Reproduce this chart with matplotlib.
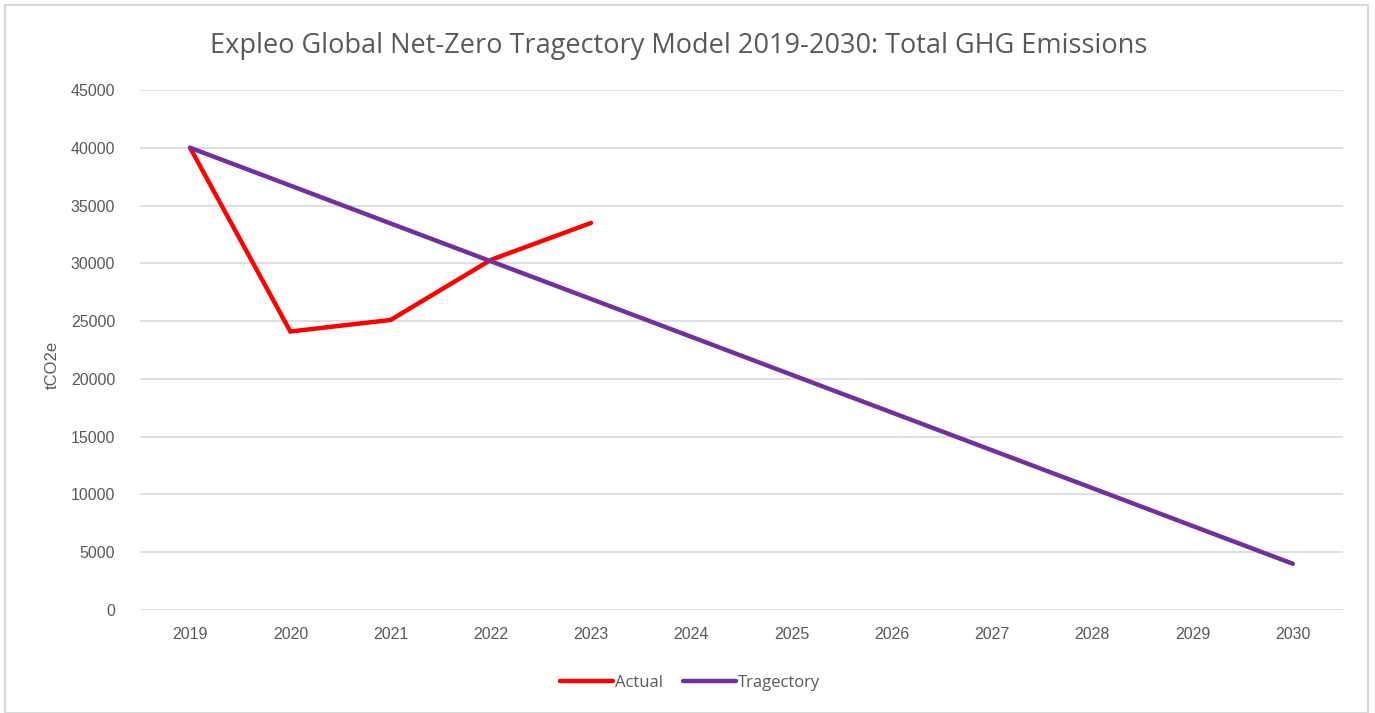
import matplotlib
matplotlib.use("Agg")
import matplotlib.pyplot as plt
from matplotlib.patches import Rectangle

years = ["2019", "2020", "2021", "2022", "2023", "2024", "2025", "2026", "2027", "2028", "2029", "2030"]
actual = [40000, 24100, 25100, 30300, 33500]
trajectory = [40000, 36730, 33450, 30180, 26910, 23640, 20360, 17090, 13820, 10550, 7270, 4000]
yticks = [0, 5000, 10000, 15000, 20000, 25000, 30000, 35000, 40000, 45000]

W, H = 1375, 713
fig = plt.figure(figsize=(W / 100, H / 100), dpi=100)
ax = fig.add_axes([140 / W, 1 - 610 / H, (1343 - 140) / W, (610 - 90) / H])

x_all = list(range(len(years)))
ax.plot(x_all[:len(actual)], actual, color="#FF0000", lw=3.2, solid_capstyle="round",
        solid_joinstyle="miter", label="Actual", zorder=3)
ax.plot(x_all, trajectory, color="#7030A0", lw=3.2, solid_capstyle="round",
        label="Tragectory", zorder=3)

ax.set_xlim(-0.5, len(years) - 0.5)
ax.set_ylim(0, 45000)
ax.set_yticks(yticks)
ax.set_yticklabels([str(v) for v in yticks])
ax.set_xticks(x_all)
ax.set_xticklabels(years)
ax.grid(axis="y", color="#D9D9D9", lw=1.2)
ax.set_axisbelow(True)
for s in ax.spines.values():
    s.set_visible(False)
ax.tick_params(axis="both", length=0, colors="#595959", labelsize=11.5)
ax.tick_params(axis="y", pad=18)
ax.tick_params(axis="x", pad=12)
for lab in ax.get_xticklabels() + ax.get_yticklabels():
    lab.set_family("Liberation Sans")

fig.text(52 / W, 1 - 365 / H, "tCO2e", rotation=90, ha="center", va="center",
         color="#595959", fontsize=12, family="Liberation Sans")

fig.text(679 / W, 1 - 46 / H, "Expleo Global Net-Zero Tragectory Model 2019-2030: Total GHG Emissions",
         ha="center", va="center", color="#595959", fontsize=19.5, family="Open Sans")

leg = fig.legend(loc="center", bbox_to_anchor=(690 / W, 1 - 683 / H), ncol=2, frameon=False,
                 handlelength=3.2, handletextpad=0.1, columnspacing=1.2,
                 prop={"family": "Open Sans", "size": 12})
for t in leg.get_texts():
    t.set_color("#595959")

fig.patches.append(Rectangle((5 / W, 0), (1368 - 5) / W, 1 - 5 / H, transform=fig.transFigure,
                             fill=False, edgecolor="#D9D9D9", lw=1.5))

fig.savefig("out.png", dpi=100, facecolor="white")
